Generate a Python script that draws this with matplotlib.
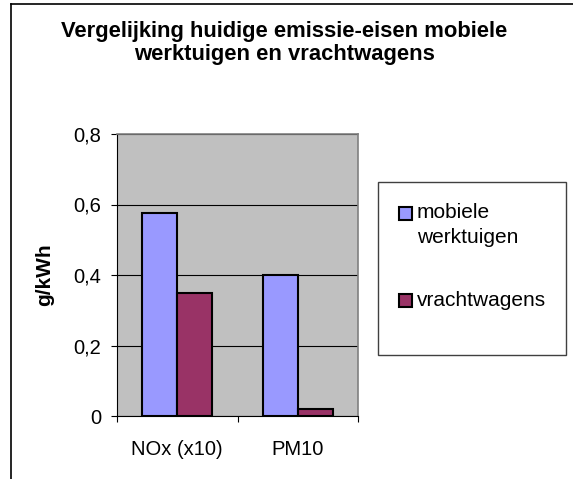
import matplotlib
matplotlib.use("Agg")
import matplotlib.pyplot as plt
from matplotlib.patches import Rectangle
from matplotlib.lines import Line2D
from matplotlib.ticker import FuncFormatter, FixedLocator

plt.rcParams["font.family"] = ["Liberation Sans", "DejaVu Sans"]

# ---------- data ----------
CATEGORIES = ["NOx (x10)", "PM10"]
MOBIELE = [0.575, 0.40]
VRACHT = [0.35, 0.02]
SERIES_NAMES = [["mobiele", "werktuigen"], ["vrachtwagens"]]
TITLE = "Vergelijking huidige emissie-eisen mobiele\nwerktuigen en vrachtwagens"

COL_MOB = "#9999FF"
COL_VR = "#993366"
PLOT_BG = "#C0C0C0"

W, H = 573, 479
fig = plt.figure(figsize=(W / 100, H / 100), dpi=100)


def fx(px):
    return px / W


def fy(py):
    return 1 - py / H


# plot area in pixels: x 117..358, y 134..416
ax = fig.add_axes([fx(117), fy(416), fx(358) - fx(117), fy(134) - fy(416)])
ax.set_facecolor(PLOT_BG)

x = list(range(len(CATEGORIES)))
bw = 0.29
ax.bar([i - bw / 2 for i in x], MOBIELE, width=bw, color=COL_MOB,
       edgecolor="black", linewidth=1.5, zorder=3)
ax.bar([i + bw / 2 for i in x], VRACHT, width=bw, color=COL_VR,
       edgecolor="black", linewidth=1.5, zorder=3)

ax.set_xlim(-0.5, len(CATEGORIES) - 0.5)
ax.set_ylim(0, 0.8)

ax.set_yticks([0, 0.2, 0.4, 0.6, 0.8])
ax.yaxis.set_major_formatter(FuncFormatter(
    lambda v, p: "0" if abs(v) < 1e-9 else f"{v:.1f}".replace(".", ",")))
ax.grid(axis="y", color="black", linewidth=0.8, zorder=1)
ax.tick_params(axis="y", direction="out", length=4.5, width=0.8,
               labelsize=14.5, pad=7)

ax.set_xticks(x)
ax.set_xticklabels(CATEGORIES)
ax.tick_params(axis="x", which="major", length=0, labelsize=14.5, pad=17)
ax.xaxis.set_minor_locator(FixedLocator([-0.5, 0.5, 1.5]))
ax.tick_params(axis="x", which="minor", direction="out", length=4.5, width=0.8)

for s in ["top", "right"]:
    ax.spines[s].set_color("#808080")
    ax.spines[s].set_linewidth(1.2)
for s in ["left", "bottom"]:
    ax.spines[s].set_color("black")
    ax.spines[s].set_linewidth(0.8)

fig.text(fx(45), fy(275), "g/kWh", rotation=90, ha="center", va="center",
         fontsize=15, fontweight="bold")

fig.text(fx(284), fy(43), TITLE, ha="center", va="center",
         fontsize=15.8, fontweight="bold", linespacing=1.15)

# legend frame and entries (drawn by hand to keep the swatch on the first line)
fig.add_artist(Rectangle((fx(378), fy(355)), fx(566) - fx(378), fy(182) - fy(355),
                         transform=fig.transFigure, facecolor="white",
                         edgecolor="#404040", linewidth=1.0))
legend_rows = [(213, COL_MOB, SERIES_NAMES[0]), (300, COL_VR, SERIES_NAMES[1])]
for y0, col, lines in legend_rows:
    fig.add_artist(Rectangle((fx(399), fy(y0 + 6.5)), fx(412) - fx(399), fy(y0 - 6.5) - fy(y0 + 6.5),
                             transform=fig.transFigure, facecolor=col,
                             edgecolor="black", linewidth=1.5))
    for k, txt in enumerate(lines):
        fig.text(fx(417), fy(y0 + 24 * k), txt, ha="left", va="center",
                 fontsize=15)

# outer chart border (top and left edges visible)
fig.add_artist(Line2D([fx(11), 1], [fy(4), fy(4)], transform=fig.transFigure,
                      color="black", linewidth=1.2))
fig.add_artist(Line2D([fx(11), fx(11)], [fy(4), 0], transform=fig.transFigure,
                      color="black", linewidth=1.2))

fig.savefig("out.png", dpi=100)
